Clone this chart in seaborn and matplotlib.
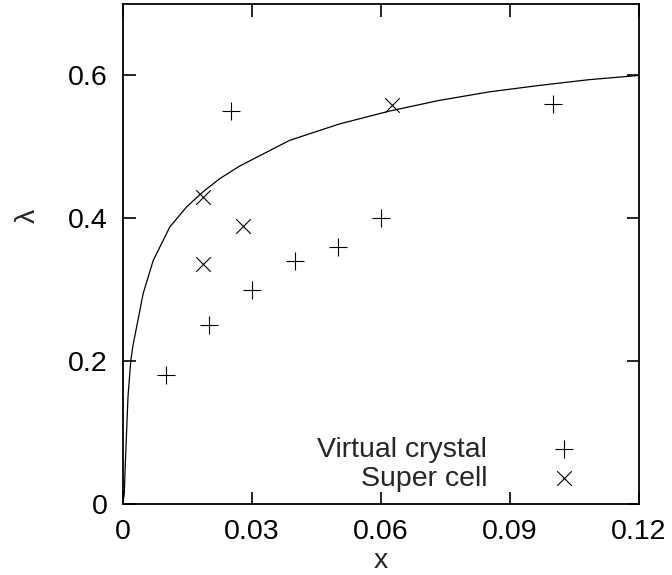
import numpy as np
import pandas as pd
import matplotlib
matplotlib.use("Agg")
import matplotlib.pyplot as plt
import seaborn as sns

# ── Data ──────────────────────────────────────────────────────────────────────
vc_x = [0.01, 0.02, 0.03, 0.04, 0.05, 0.06, 0.025, 0.10]
vc_y = [0.18, 0.25, 0.30, 0.34, 0.36, 0.40, 0.55, 0.56]

sc_x = [0.0186, 0.0279, 0.0186, 0.0626]
sc_y = [0.430, 0.389, 0.336, 0.559]

curve_x = [0.0, 0.0003, 0.00054, 0.00085, 0.00116, 0.0018, 0.00232, 0.00317,
           0.0047, 0.00703, 0.0109, 0.0148, 0.0186, 0.0225, 0.0271, 0.0387,
           0.0503, 0.0619, 0.0735, 0.0852, 0.0968, 0.1083, 0.12]
curve_y = [0.0, 0.015, 0.057, 0.1035, 0.150, 0.200, 0.222, 0.248,
           0.295, 0.341, 0.388, 0.416, 0.437, 0.4555, 0.473, 0.509,
           0.532, 0.550, 0.565, 0.577, 0.586, 0.594, 0.600]

x_ticks = [0, 0.03, 0.06, 0.09, 0.12]
x_ticklabels = ["0", "0.03", "0.06", "0.09", "0.12"]
y_ticks = [0, 0.2, 0.4, 0.6]
y_ticklabels = ["0", "0.2", "0.4", "0.6"]

df_vc = pd.DataFrame({"x": vc_x, "lam": vc_y})
df_sc = pd.DataFrame({"x": sc_x, "lam": sc_y})
df_curve = pd.DataFrame({"x": curve_x, "lam": curve_y})

# ── Style ─────────────────────────────────────────────────────────────────────
sns.set_style("ticks")
plt.rcParams["font.family"] = ["Liberation Sans", "DejaVu Sans"]
FS = 20.5

fig = plt.figure(figsize=(6.72, 5.75), dpi=100)
ax = fig.add_axes([123 / 672, 71 / 575, 516 / 672, 500 / 575])

sns.lineplot(data=df_curve, x="x", y="lam", ax=ax, color="black", lw=0.9,
             sort=False, estimator=None, legend=False)
sns.scatterplot(data=df_vc, x="x", y="lam", ax=ax, marker="+", s=150,
                color="black", linewidth=0.8, label="Virtual crystal")
sns.scatterplot(data=df_sc, x="x", y="lam", ax=ax, marker="x", s=110,
                color="black", linewidth=0.8, label="Super cell")

ax.set_xlim(0, 0.12)
ax.set_ylim(0, 0.7)
ax.set_xticks(x_ticks)
ax.set_xticklabels(x_ticklabels)
ax.set_yticks(y_ticks)
ax.set_yticklabels(y_ticklabels)
ax.tick_params(direction="in", length=9, width=1.2, labelsize=FS,
               top=True, right=True, colors="black")
ax.tick_params(axis="x", pad=11)
ax.tick_params(axis="y", pad=11)
for sp in ax.spines.values():
    sp.set_linewidth(1.3)
    sp.set_color("black")

ax.set_xlabel("x", fontsize=FS)
ax.set_ylabel("λ", fontsize=FS)
ax.xaxis.set_label_coords(0.5, -0.114)
ax.xaxis.label.set_va("center")
ax.yaxis.set_label_coords(-0.16, 0.576)

ax.legend(loc="lower right", bbox_to_anchor=(0.965, 0.025), frameon=False,
          markerfirst=False, fontsize=FS, handlelength=4, handletextpad=0.7,
          labelspacing=0.1, borderpad=0, borderaxespad=0, scatterpoints=1)

fig.savefig("out.png", dpi=100)
